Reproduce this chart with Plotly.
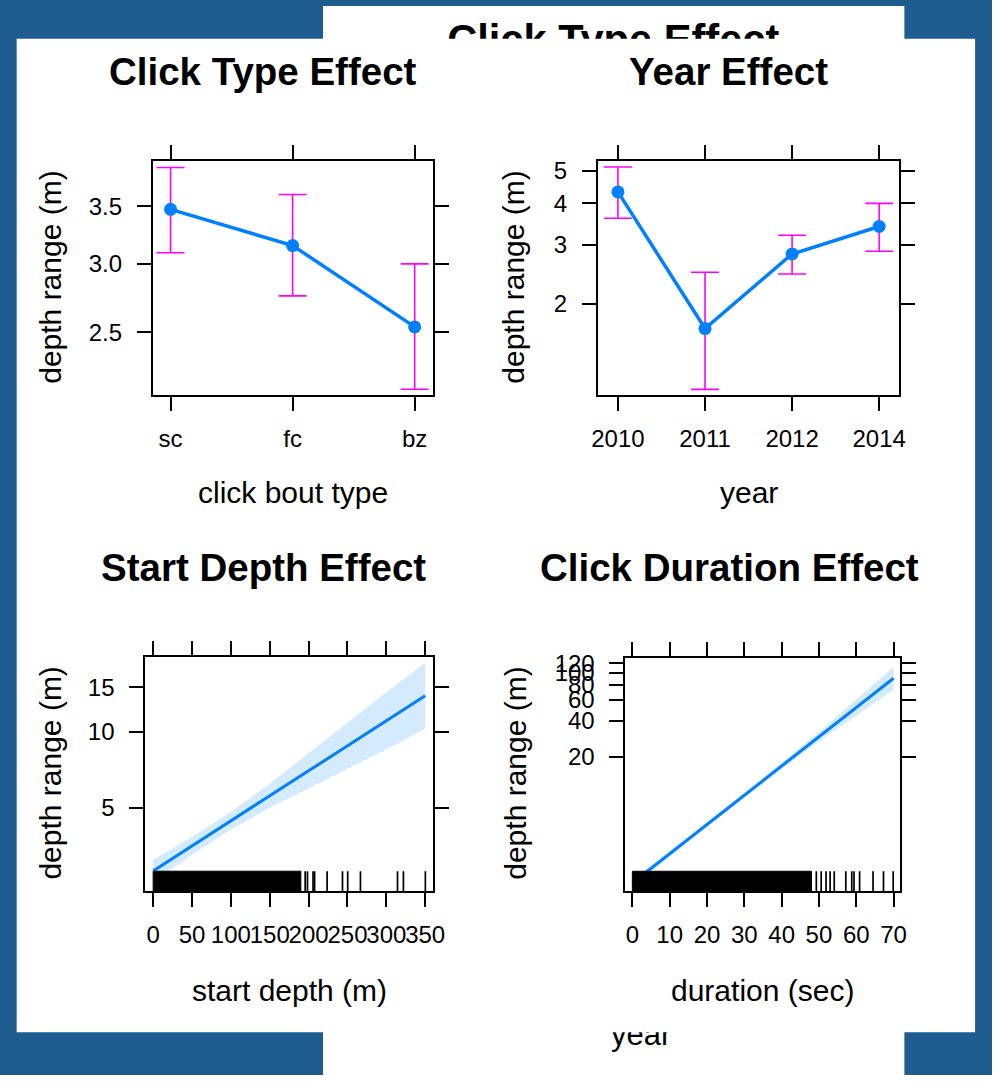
import plotly.graph_objects as go

W, H = 1000, 1083
FONT = "Liberation Sans, Arial, sans-serif"

# ---------------- data ----------------
click_types = ["sc", "fc", "bz"]
click_fit = [3.47, 3.15, 2.535]
click_lower = [3.09, 2.754, 2.146]
click_upper = [3.88, 3.61, 3.00]

years = ["2010", "2011", "2012", "2014"]
year_fit = [4.33, 1.685, 2.82, 3.41]
year_lower = [3.61, 1.107, 2.456, 2.873]
year_upper = [5.14, 2.485, 3.21, 4.00]

start_depth = [0, 50, 100, 150, 200, 250, 300, 350]
start_fit = [2.82, 3.55, 4.45, 5.59, 7.01, 8.80, 11.05, 13.87]
start_lower = [2.55, 3.27, 4.11, 5.01, 5.97, 7.13, 8.52, 10.27]
start_upper = [3.12, 3.84, 4.82, 6.24, 8.23, 10.86, 14.33, 18.72]
start_rug_dense = [0, 190]
start_rug = [195.6, 198.5, 205.7, 207.7, 223.8, 243.6, 250.3, 266.7, 314.4, 322.0, 350.2]

duration = [0, 10, 20, 30, 40, 50, 60, 70]
dur_fit = [1.80, 3.15, 5.51, 9.64, 16.86, 29.5, 51.6, 90.2]
dur_lower = [1.70, 3.00, 5.24, 9.17, 15.88, 26.96, 44.41, 72.39]
dur_upper = [1.91, 3.31, 5.79, 10.13, 17.90, 32.28, 59.95, 112.4]
dur_rug_dense = [0, 48]
dur_rug = [49.3, 50.6, 51.9, 53.0, 54.1, 57.2, 58.8, 59.4, 60.9, 64.5, 67.3, 69.9]

click_ticks = [2.5, 3.0, 3.5]
click_ticktext = ["2.5", "3.0", "3.5"]
year_ticks = [2, 3, 4, 5]
start_xticks = [0, 50, 100, 150, 200, 250, 300, 350]
start_yticks = [5, 10, 15]
dur_xticks = [0, 10, 20, 30, 40, 50, 60, 70]
dur_yticks = [20, 40, 60, 80, 100, 120]

panel_titles = ["Click Type Effect", "Year Effect", "Start Depth Effect", "Click Duration Effect"]
x_titles = ["click bout type", "year", "start depth (m)", "duration (sec)"]
y_title = "depth range (m)"
back_title = "Click Type Effect"
back_xtitle = "year"

# ---------------- styling ----------------
BLUE_BG = "#1e5b8e"
LINE_BLUE = "#0080ff"
MAGENTA = "#ff00ff"
BAND = "rgba(0,128,255,0.17)"
RUG_H = 20 / 235.4


def xd(x0, x1):
    return [x0 / W, x1 / W]


def yd(y0, y1):
    return [1 - y1 / H, 1 - y0 / H]


def px(x):
    return x / W


def py(y):
    return 1 - y / H


axis_common = dict(
    showline=True, linecolor="black", linewidth=2, mirror="ticks",
    ticks="outside", ticklen=14, tickwidth=2, tickcolor="black",
    showgrid=False, zeroline=False, tickangle=0,
    tickfont=dict(size=24, color="black", family=FONT),
)

fig = go.Figure()

# ---- panel 1: click type ----
fig.add_trace(go.Scatter(
    x=click_types, y=click_fit, mode="lines+markers",
    line=dict(color=LINE_BLUE, width=3.5), marker=dict(color=LINE_BLUE, size=13),
    error_y=dict(type="data", symmetric=False,
                 array=[u - f for u, f in zip(click_upper, click_fit)],
                 arrayminus=[f - l for f, l in zip(click_fit, click_lower)],
                 color=MAGENTA, thickness=1.6, width=14),
    xaxis="x", yaxis="y", showlegend=False, cliponaxis=False))

# ---- panel 2: year ----
fig.add_trace(go.Scatter(
    x=years, y=year_fit, mode="lines+markers",
    line=dict(color=LINE_BLUE, width=3.5), marker=dict(color=LINE_BLUE, size=13),
    error_y=dict(type="data", symmetric=False,
                 array=[u - f for u, f in zip(year_upper, year_fit)],
                 arrayminus=[f - l for f, l in zip(year_fit, year_lower)],
                 color=MAGENTA, thickness=1.6, width=14),
    xaxis="x2", yaxis="y2", showlegend=False, cliponaxis=False))

# ---- panel 3: start depth ----
fig.add_trace(go.Scatter(x=start_depth, y=start_lower, mode="lines", line=dict(width=0),
                         xaxis="x3", yaxis="y3", showlegend=False, hoverinfo="skip"))
fig.add_trace(go.Scatter(x=start_depth, y=start_upper, mode="lines", line=dict(width=0),
                         fill="tonexty", fillcolor=BAND,
                         xaxis="x3", yaxis="y3", showlegend=False, hoverinfo="skip"))
fig.add_trace(go.Scatter(x=start_depth, y=start_fit, mode="lines",
                         line=dict(color=LINE_BLUE, width=3),
                         xaxis="x3", yaxis="y3", showlegend=False))


def rug_traces(dense, ticks, xa, ya):
    rx, ry = [], []
    for v in ticks:
        rx += [v, v, None]
        ry += [0, RUG_H, None]
    out = [
        go.Scatter(x=[dense[0], dense[1], dense[1], dense[0], dense[0]],
                   y=[0, 0, RUG_H, RUG_H, 0], mode="lines", fill="toself",
                   fillcolor="black", line=dict(color="black", width=1),
                   xaxis=xa, yaxis=ya, showlegend=False, hoverinfo="skip"),
        go.Scatter(x=rx, y=ry, mode="lines", line=dict(color="black", width=1.7),
                   xaxis=xa, yaxis=ya, showlegend=False, hoverinfo="skip"),
    ]
    return out


for t in rug_traces(start_rug_dense, start_rug, "x3", "y5"):
    fig.add_trace(t)

# ---- panel 4: duration ----
fig.add_trace(go.Scatter(x=duration, y=dur_lower, mode="lines", line=dict(width=0),
                         xaxis="x4", yaxis="y4", showlegend=False, hoverinfo="skip"))
fig.add_trace(go.Scatter(x=duration, y=dur_upper, mode="lines", line=dict(width=0),
                         fill="tonexty", fillcolor=BAND,
                         xaxis="x4", yaxis="y4", showlegend=False, hoverinfo="skip"))
fig.add_trace(go.Scatter(x=duration, y=dur_fit, mode="lines",
                         line=dict(color=LINE_BLUE, width=3),
                         xaxis="x4", yaxis="y4", showlegend=False))
for t in rug_traces(dur_rug_dense, dur_rug, "x4", "y6"):
    fig.add_trace(t)

# ---- partially hidden back chart texts (clipped by their own hidden axes) ----
fig.add_trace(go.Scatter(x=[626.5], y=[22.6], mode="text", text=[back_title],
                         textposition="bottom center",
                         textfont=dict(size=41.6, color="black", family=FONT, weight="bold"),
                         xaxis="x7", yaxis="y7", showlegend=False, hoverinfo="skip"))
fig.add_trace(go.Scatter(x=[655], y=[1060.75], mode="text", text=[back_xtitle],
                         textposition="top center",
                         textfont=dict(size=31, color="black", family=FONT),
                         xaxis="x8", yaxis="y8", showlegend=False, hoverinfo="skip"))

layout = dict(
    margin=dict(l=0, r=0, t=0, b=0, pad=0),
    paper_bgcolor=BLUE_BG, plot_bgcolor="rgba(0,0,0,0)",
    font=dict(family=FONT, color="black"),
    showlegend=False,
    xaxis=dict(axis_common, domain=xd(157.7, 442.7), anchor="y", type="category",
               range=[-0.145, 2.148]),
    yaxis=dict(axis_common, domain=yd(162, 397.7), anchor="x", type="log",
               range=[0.3253, 0.5966], tickvals=click_ticks, ticktext=click_ticktext),
    xaxis2=dict(axis_common, domain=xd(611, 917.7), anchor="y2", type="category",
                range=[-0.229, 3.23]),
    yaxis2=dict(axis_common, domain=yd(162.3, 397.7), anchor="x2", type="log",
                range=[0.02806, 0.7288], tickvals=year_ticks),
    xaxis3=dict(axis_common, domain=xd(150, 442.7), anchor="y3",
                range=[-10.1, 359.7], tickvals=start_xticks),
    yaxis3=dict(axis_common, domain=yd(662.3, 897.7), anchor="x3", type="log",
                range=[0.3709, 1.2938], tickvals=start_yticks),
    yaxis5=dict(domain=yd(662.3, 897.7), anchor="x3", overlaying="y3",
                range=[0, 1], visible=False),
    xaxis4=dict(axis_common, domain=xd(639, 918.3), anchor="y4",
                range=[-1.84, 71.66], tickvals=dur_xticks),
    yaxis4=dict(axis_common, domain=yd(662.7, 897.7), anchor="x4", type="log",
                range=[0.1885, 2.125], tickvals=dur_yticks),
    yaxis6=dict(domain=yd(662.7, 897.7), anchor="x4", overlaying="y4",
                range=[0, 1], visible=False),
    xaxis7=dict(domain=xd(331, 923), anchor="y7", range=[331, 923], visible=False),
    yaxis7=dict(domain=yd(6, 39), anchor="x7", range=[39, 6], visible=False),
    xaxis8=dict(domain=xd(331, 923), anchor="y8", range=[331, 923], visible=False),
    yaxis8=dict(domain=yd(1040, 1083), anchor="x8", range=[1083, 1040], visible=False),
)
fig.update_layout(**layout)
for ax in ["xaxis", "xaxis2", "xaxis3", "xaxis4"]:
    fig.layout[ax].ticklabelstandoff = 7
for ax in ["yaxis", "yaxis2", "yaxis3", "yaxis4"]:
    fig.layout[ax].ticklabelstandoff = 10

# white panels (back and front)
fig.add_shape(type="rect", xref="paper", yref="paper", layer="below",
              x0=px(331), x1=px(923), y0=py(1083), y1=py(6),
              fillcolor="white", line=dict(width=0))
fig.add_shape(type="rect", xref="paper", yref="paper", layer="below",
              x0=px(19), x1=px(995), y0=py(1040), y1=py(39),
              fillcolor="white", line=dict(width=0))

# titles
title_pos = [(270, 71.7), (744, 71.7), (270, 571.7), (744.5, 571.7)]
for t, (x, y) in zip(panel_titles, title_pos):
    fig.add_annotation(x=px(x), y=py(y), xref="paper", yref="paper", text=t,
                       showarrow=False, xanchor="center", yanchor="middle",
                       font=dict(size=38.5, color="black", family=FONT, weight="bold"))

xt_pos = [(300, 496.6), (764.3, 496.6), (296.4, 997.6), (778.7, 997.6)]
for t, (x, y) in zip(x_titles, xt_pos):
    fig.add_annotation(x=px(x), y=py(y), xref="paper", yref="paper", text=t,
                       showarrow=False, xanchor="center", yanchor="middle",
                       font=dict(size=30, color="black", family=FONT))

yt_pos = [(53.3, 279.5), (525, 279.2), (53.3, 779), (527, 779)]
for (x, y) in yt_pos:
    fig.add_annotation(x=px(x), y=py(y), xref="paper", yref="paper", text=y_title,
                       showarrow=False, xanchor="center", yanchor="middle", textangle=-90,
                       font=dict(size=30, color="black", family=FONT))

# the page keeps the browser's default 8px body margin; a matching negative
# margin on the plot div places the 1000x1083 figure exactly at the page origin
fig.write_html("out.html", default_width="1000px; margin:-8px", default_height="1083px")
